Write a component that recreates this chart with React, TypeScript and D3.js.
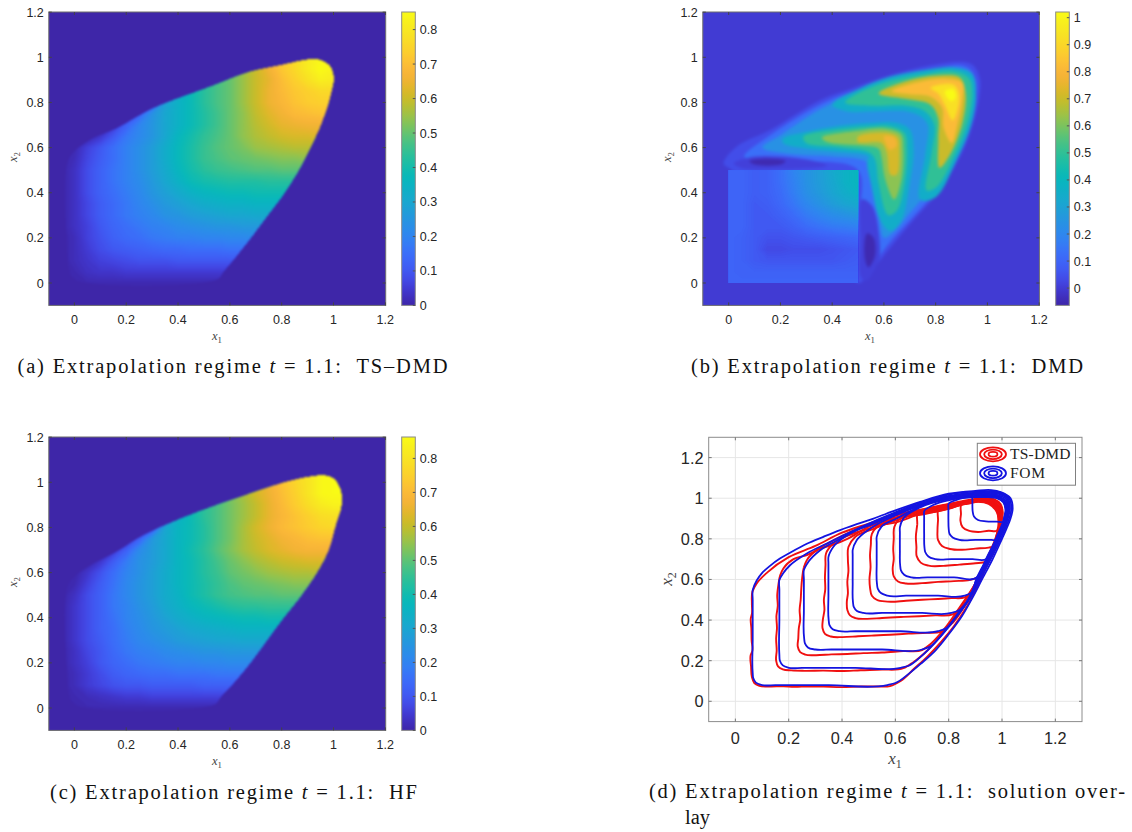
import React from "react";
import * as d3 from "d3";

/* ---------- palette ---------- */
const paletteStops = [
  "#3e26a8", "#4033c8", "#4349e8", "#3f5ef5", "#3c6cfa", "#3380f4", "#2b8cea", "#2498dc",
  "#1aa6d0", "#10afc6", "#04b8bc", "#18bda8", "#30c095", "#50c280", "#78c460", "#a0c245",
  "#c4bc28", "#e0b828", "#f8b03a", "#fcbf36", "#fcd02c", "#f8e024", "#f8ec20", "#f9fb15",
];

/* ---------- heat-map samples: rows y = 1.05 … -0.05, columns x = -0.05 … 1.05, step 0.05 ---------- */
const tsDmdField = [
  [0,0,0,0,0,0,0,0,0,.34,.38,.43,.47,.5,.55,.6,.66,.72,.76,.81,.84,.82,.82],
  [0,0,0,0,0,0,0,0,0,.34,.38,.43,.47,.5,.55,.6,.66,.72,.76,.81,.84,.83,.83],
  [0,0,0,0,0,0,0,0,0,.34,.38,.43,.47,.5,.55,.6,.66,.72,.76,.81,.85,.83,.82],
  [0,0,0,0,0,0,0,0,0,.34,.38,.43,.47,.5,.55,.6,.64,.7,.74,.78,.82,.81,.8],
  [0,0,0,0,0,0,0,0,.12,.3,.38,.43,.47,.5,.55,.6,.65,.69,.72,.74,.76,.76,.76],
  [0,0,0,0,0,0,0,.08,.28,.34,.38,.43,.47,.5,.55,.6,.65,.68,.71,.73,.74,.74,.74],
  [0,0,0,0,0,0,.12,.24,.3,.34,.38,.42,.46,.5,.54,.59,.63,.66,.69,.7,.71,.71,.71],
  [0,0,0,0,.04,.12,.2,.25,.3,.34,.38,.42,.46,.5,.54,.58,.61,.64,.65,.66,.66,.66,.66],
  [0,0,0,.04,.1,.17,.21,.25,.3,.36,.4,.44,.47,.5,.54,.57,.59,.61,.62,.62,.63,.63,.63],
  [0,.01,.06,.1,.15,.19,.23,.27,.32,.37,.41,.45,.48,.5,.52,.55,.56,.57,.58,.58,.58,.58,.58],
  [0,.02,.07,.11,.15,.19,.23,.27,.32,.37,.41,.45,.47,.49,.5,.51,.52,.53,.53,.54,.54,.54,.54],
  [0,.03,.08,.12,.16,.19,.23,.27,.31,.36,.4,.43,.45,.46,.47,.48,.48,.49,.49,.49,.49,.49,.49],
  [0,.03,.08,.12,.16,.19,.22,.26,.3,.34,.38,.4,.41,.42,.42,.42,.43,.43,.43,.43,.43,.43,.43],
  [0,.03,.08,.12,.15,.18,.21,.25,.28,.31,.34,.36,.37,.38,.38,.39,.39,.39,.39,.39,.39,.39,.39],
  [0,.03,.07,.11,.14,.17,.2,.23,.26,.28,.3,.32,.33,.34,.34,.35,.35,.35,.35,.35,.35,.35,.35],
  [0,.03,.07,.11,.14,.17,.19,.21,.24,.25,.27,.28,.29,.3,.3,.31,.31,.31,.31,.31,.31,.31,.31],
  [0,.03,.06,.1,.13,.15,.17,.19,.2,.22,.23,.24,.25,.25,.26,.26,.27,.27,.27,.27,.27,.27,.27],
  [0,.02,.06,.09,.12,.14,.15,.17,.18,.19,.19,.2,.2,.21,.21,.22,.22,.22,.22,.22,.22,.22,.22],
  [0,.02,.05,.08,.1,.11,.12,.13,.14,.14,.15,.15,.15,.16,.16,.16,.16,.16,.16,.16,.16,.16,.16],
  [0,.02,.04,.06,.07,.08,.09,.09,.09,.1,.1,.1,.1,.1,.1,.1,.1,.1,.1,.1,.1,.1,.1],
  [0,.01,.03,.04,.04,.05,.05,.05,.05,.05,.05,.05,.05,.05,.05,.05,.05,.05,.05,.05,.05,.05,.05],
  [0,0,.01,.01,.01,.01,.01,.01,.01,.01,.01,.01,.01,.01,.01,0,0,0,0,0,0,0,0],
  [0,0,0,0,0,0,0,0,0,0,0,0,0,0,0,0,0,0,0,0,0,0,0],
];
const hfField = [
  [0,0,0,0,0,0,0,0,0,.36,.4,.44,.48,.53,.57,.62,.67,.72,.76,.8,.85,.86,.86],
  [0,0,0,0,0,0,0,0,0,.36,.4,.44,.48,.53,.57,.62,.67,.72,.76,.8,.85,.86,.86],
  [0,0,0,0,0,0,0,0,0,.36,.4,.44,.48,.53,.57,.62,.66,.71,.75,.8,.85,.86,.86],
  [0,0,0,0,0,0,0,0,0,.36,.4,.44,.48,.52,.56,.6,.65,.7,.74,.78,.82,.84,.84],
  [0,0,0,0,0,0,0,0,.14,.34,.39,.44,.48,.52,.56,.6,.65,.69,.72,.75,.78,.79,.79],
  [0,0,0,0,0,0,0,.08,.3,.36,.39,.43,.48,.52,.57,.62,.66,.7,.72,.74,.76,.77,.77],
  [0,0,0,0,0,.01,.12,.26,.31,.36,.39,.43,.48,.52,.57,.61,.64,.67,.69,.71,.72,.72,.72],
  [0,0,0,0,.04,.12,.22,.27,.31,.36,.4,.44,.49,.53,.57,.6,.63,.65,.67,.68,.68,.68,.68],
  [0,0,0,.04,.11,.18,.24,.27,.31,.36,.39,.43,.47,.51,.54,.57,.59,.61,.62,.63,.63,.63,.63],
  [0,0,.04,.09,.15,.2,.24,.28,.32,.36,.39,.43,.46,.5,.52,.54,.56,.57,.58,.58,.59,.59,.59],
  [0,.01,.06,.11,.16,.21,.25,.28,.32,.36,.39,.42,.45,.48,.5,.51,.52,.53,.54,.54,.54,.54,.54],
  [0,.03,.08,.12,.17,.21,.25,.28,.32,.35,.39,.42,.45,.47,.48,.49,.49,.5,.5,.5,.5,.5,.5],
  [0,.04,.08,.12,.17,.2,.24,.27,.31,.34,.37,.39,.41,.43,.44,.44,.45,.45,.45,.45,.45,.45,.45],
  [0,.04,.08,.12,.16,.2,.23,.26,.29,.32,.34,.36,.37,.38,.39,.39,.4,.4,.4,.4,.4,.4,.4],
  [0,.04,.08,.12,.15,.19,.22,.25,.27,.29,.31,.32,.33,.34,.35,.35,.35,.35,.35,.35,.35,.35,.35],
  [0,.04,.08,.11,.15,.18,.21,.23,.25,.27,.28,.29,.3,.3,.31,.31,.31,.31,.31,.31,.31,.31,.31],
  [0,.03,.07,.1,.14,.17,.19,.2,.22,.23,.24,.25,.25,.26,.26,.26,.26,.26,.26,.26,.26,.26,.26],
  [0,.03,.06,.1,.13,.15,.17,.18,.19,.2,.2,.21,.21,.22,.22,.22,.22,.22,.22,.22,.22,.22,.22],
  [0,.02,.05,.08,.11,.13,.14,.15,.15,.16,.16,.16,.17,.17,.17,.17,.17,.17,.17,.17,.17,.17,.17],
  [0,.02,.05,.07,.09,.1,.1,.11,.11,.11,.11,.12,.12,.12,.12,.12,.12,.12,.12,.12,.12,.12,.12],
  [0,.01,.02,.03,.04,.05,.05,.06,.06,.06,.06,.06,.06,.06,.06,.06,.06,.06,.06,.06,.06,.06,.06],
  [0,0,.01,.01,.01,.01,.01,.01,.01,.01,.01,.01,.01,.01,.01,0,0,0,0,0,0,0,0],
  [0,0,0,0,0,0,0,0,0,0,0,0,0,0,0,0,0,0,0,0,0,0,0],
];

/* DMD: iso-level outlines painted in order */
const dmdLevels = [.04, .13, .24, .35, .5, .7, .82, .93, 1.02, .35, .5, .62, .72, .78, .01, -.05, .01, -.05];
const dmdOutlines: number[][][] = [
  [[-.02,.53],[.03,.604],[.16,.678],[.353,.81],[.47,.86],[.585,.907],[.7,.945],[.8,.968],[.894,.98],[.945,.965],[.971,.906],[.969,.825],[.945,.707],[.907,.589],[.817,.412],[.726,.293],[.649,.19],[.585,.1],[.52,.01],[.5,0],[.3,.3],[0,.51]],
  [[.06,.56],[.16,.655],[.353,.79],[.47,.845],[.585,.89],[.7,.93],[.8,.95],[.89,.965],[.93,.95],[.955,.9],[.955,.825],[.93,.71],[.89,.59],[.8,.41],[.71,.29],[.63,.19],[.57,.1],[.53,.03],[.51,.3],[.5,.5],[.3,.54],[.1,.54]],
  [[.13,.6],[.2,.655],[.353,.77],[.47,.83],[.585,.875],[.7,.915],[.8,.94],[.88,.95],[.92,.94],[.94,.89],[.94,.82],[.915,.7],[.87,.59],[.78,.42],[.7,.31],[.65,.24],[.6,.2],[.58,.3],[.56,.42],[.54,.53],[.4,.56],[.25,.57]],
  [[.4,.79],[.507,.862],[.623,.914],[.752,.943],[.868,.955],[.939,.929],[.956,.84],[.939,.707],[.881,.545],[.8,.38],[.74,.37],[.76,.57],[.77,.7],[.74,.74],[.688,.76],[.559,.76],[.46,.76]],
  [[.45,.8],[.507,.845],[.623,.895],[.752,.924],[.868,.938],[.928,.908],[.941,.84],[.922,.707],[.87,.559],[.804,.425],[.765,.41],[.785,.58],[.795,.7],[.76,.76],[.688,.785],[.559,.785]],
  [[.58,.84],[.688,.895],[.817,.92],[.894,.91],[.916,.84],[.903,.707],[.858,.574],[.815,.51],[.81,.64],[.81,.73],[.78,.79],[.688,.815]],
  [[.63,.85],[.752,.895],[.842,.905],[.903,.887],[.903,.81],[.884,.7],[.862,.62],[.83,.69],[.825,.775],[.78,.825],[.71,.835]],
  [[.78,.865],[.868,.88],[.89,.84],[.884,.766],[.866,.72],[.835,.79],[.81,.84]],
  [[.836,.85],[.868,.858],[.878,.825],[.862,.805],[.842,.825]],
  [[.21,.64],[.3,.67],[.417,.695],[.559,.71],[.649,.71],[.7,.68],[.715,.589],[.7,.441],[.665,.27],[.625,.23],[.585,.28],[.55,.441],[.535,.53],[.54,.56],[.43,.58],[.3,.595],[.21,.62]],
  [[.288,.648],[.417,.68],[.56,.695],[.623,.695],[.68,.665],[.69,.589],[.68,.441],[.65,.32],[.617,.3],[.58,.44],[.565,.55],[.54,.58],[.43,.6],[.3,.62]],
  [[.36,.645],[.5,.675],[.6,.685],[.665,.66],[.675,.59],[.668,.46],[.64,.37],[.605,.46],[.59,.56],[.58,.595],[.5,.61],[.38,.625]],
  [[.5,.65],[.62,.665],[.655,.645],[.66,.58],[.65,.48],[.625,.48],[.61,.58],[.59,.62],[.5,.625]],
  [[.6,.65],[.64,.645],[.65,.61],[.625,.59],[.605,.625]],
  [[.02,.53],[.1,.56],[.2,.56],[.33,.54],[.38,.52],[.2,.505],[.05,.51]],
  [[.08,.54],[.15,.55],[.22,.54],[.2,.525],[.1,.525]],
  [[.515,.37],[.555,.34],[.58,.22],[.58,.1],[.53,.01],[.51,.03],[.51,.2]],
  [[.535,.22],[.56,.2],[.565,.12],[.54,.07],[.525,.12]],
];
/* DMD square [0,0.5]²: rows y = 0.5 … 0, columns x = 0 … 0.5 */
const dmdSquare = [
  [.1,.1,.08,.09,.13,.19,.24,.28,.33,.37,.4],
  [.1,.1,.08,.09,.13,.18,.24,.28,.32,.37,.4],
  [.1,.1,.08,.09,.12,.17,.23,.27,.31,.35,.38],
  [.1,.1,.07,.08,.11,.15,.2,.24,.28,.31,.33],
  [.1,.1,.07,.07,.09,.12,.16,.19,.22,.24,.26],
  [.1,.1,.07,.07,.07,.09,.12,.14,.16,.17,.18],
  [.1,.09,.07,.05,.05,.06,.07,.08,.09,.1,.11],
  [.1,.09,.07,.03,.03,.04,.04,.04,.05,.06,.07],
  [.1,.09,.07,.06,.06,.06,.06,.06,.06,.07,.08],
  [.1,.09,.09,.09,.09,.09,.09,.09,.09,.09,.09],
  [.1,.1,.1,.1,.1,.1,.1,.1,.1,.1,.1],
];

/* sharp outer edges of the two transported fronts */
const tsDmdEdge: number[][] = [[0,.015],[.55,.015],[.575,.05],[.625,.12],[.68,.2],[.745,.3],[.81,.4],[.865,.5],[.91,.6],[.95,.7],[.98,.8],[.995,.87],[1,.91],[.985,.96],[.936,.99],[.88,.985],[.8,.965],[.678,.935],[.549,.88],[.42,.825],[.292,.767],[.163,.685],[.06,.634],[-.017,.56],[-.036,.456],[-.03,.2],[-.02,.06]];
const hfEdge: number[][] = [[0,.015],[.54,.015],[.565,.05],[.625,.125],[.685,.21],[.745,.305],[.81,.405],[.875,.5],[.935,.6],[.98,.7],[1.005,.8],[1.03,.9],[1.025,.97],[1,1.015],[.96,1.03],[.9,1.022],[.8,.995],[.693,.955],[.518,.885],[.393,.83],[.268,.765],[.167,.695],[.06,.63],[-.017,.56],[-.036,.456],[-.03,.2],[-.02,.06]];

/* ---------- overlay curves (x1, x2) ---------- */
const fomCurves: number[][][] = [
  [[.065,.5],[.065,.3],[.065,.14],[.067,.115],[.077,.092],[.1,.08],[.15,.08],[.35,.08],[.57,.08],[.6,.09],[.65,.135],[.7,.19],[.75,.25],[.8,.33],[.85,.42],[.885,.5],[.925,.6],[.965,.7],[1,.8],[1.017,.85],[1.032,.9],[1.04,.95],[1.032,1],[.995,1.03],[.96,1.04],[.9,1.036],[.8,1.022],[.693,.982],[.6,.94],[.518,.9],[.455,.872],[.393,.843],[.33,.81],[.268,.776],[.2,.728],[.167,.703],[.13,.667],[.099,.63],[.08,.595],[.065,.547]],
  [[.165,.55],[.165,.4],[.165,.23],[.167,.2],[.178,.177],[.2,.165],[.25,.165],[.45,.165],[.62,.165],[.65,.175],[.7,.225],[.75,.29],[.8,.37],[.85,.46],[.875,.5],[.918,.6],[.958,.7],[.995,.8],[1.012,.85],[1.027,.9],[1.035,.95],[1.027,1],[.99,1.03],[.95,1.035],[.9,1.032],[.8,1.018],[.693,.978],[.6,.93],[.518,.885],[.418,.825],[.343,.777],[.268,.728],[.205,.67],[.18,.632],[.165,.597]],
  [[.257,.6],[.257,.45],[.258,.31],[.261,.285],[.272,.265],[.3,.255],[.36,.255],[.55,.255],[.7,.255],[.73,.27],[.77,.32],[.82,.4],[.87,.49],[.912,.6],[.952,.7],[.99,.8],[1.022,.9],[1.03,.95],[1.022,1],[.99,1.025],[.95,1.03],[.9,1.028],[.8,1.012],[.693,.972],[.6,.925],[.518,.88],[.45,.84],[.393,.8],[.318,.744],[.274,.687],[.257,.646]],
  [[.349,.68],[.349,.52],[.35,.4],[.353,.375],[.365,.355],[.39,.345],[.45,.345],[.62,.345],[.76,.345],[.79,.36],[.83,.42],[.88,.51],[.908,.6],[.948,.7],[.986,.8],[1.018,.9],[1.026,.95],[1.018,1],[.99,1.02],[.95,1.025],[.9,1.024],[.8,1.008],[.693,.968],[.6,.92],[.518,.875],[.418,.817],[.367,.76],[.349,.71]],
  [[.44,.72],[.44,.58],[.441,.49],[.444,.465],[.456,.445],[.48,.435],[.55,.435],[.7,.435],[.81,.435],[.84,.45],[.88,.52],[.905,.6],[.945,.7],[.983,.8],[1.015,.9],[1.023,.95],[1.015,.995],[.985,1.015],[.95,1.02],[.9,1.02],[.8,1.004],[.693,.964],[.6,.915],[.505,.85],[.455,.793],[.44,.745]],
  [[.53,.78],[.53,.68],[.531,.58],[.534,.555],[.546,.533],[.57,.52],[.64,.52],[.76,.52],[.86,.52],[.885,.535],[.903,.6],[.942,.7],[.98,.8],[1.012,.9],[1.02,.95],[1.012,.99],[.98,1.012],[.95,1.016],[.9,1.016],[.8,1],[.693,.96],[.605,.9],[.548,.86],[.53,.81]],
  [[.617,.83],[.617,.74],[.618,.67],[.621,.645],[.633,.623],[.66,.61],[.72,.61],[.82,.61],[.905,.61],[.915,.625],[.94,.7],[.978,.8],[1.01,.9],[1.017,.95],[1.01,.985],[.98,1.008],[.95,1.012],[.9,1.012],[.8,.996],[.693,.955],[.63,.9],[.617,.857]],
  [[.708,.91],[.708,.82],[.709,.76],[.712,.735],[.724,.713],[.75,.7],[.81,.7],[.89,.7],[.94,.7],[.955,.72],[.977,.8],[1.008,.9],[1.015,.95],[1.008,.98],[.98,1.005],[.95,1.01],[.9,1.008],[.82,.995],[.74,.965],[.708,.935]],
  [[.799,.95],[.799,.89],[.8,.85],[.803,.825],[.815,.807],[.84,.795],[.9,.795],[.96,.795],[.98,.795],[.988,.81],[1.007,.9],[1.013,.95],[1.006,.98],[.98,1.003],[.95,1.007],[.9,1.005],[.83,.992],[.799,.97]],
  [[.889,.985],[.889,.96],[.89,.935],[.895,.91],[.91,.893],[.94,.886],[.98,.885],[1.008,.885],[1.013,.895],[1.013,.95],[1.005,.98],[.98,1],[.95,1.005],[.92,1.006],[.889,1.003]],
];
const tsDmdCurves: number[][][] = [
  [[.064,.54],[.062,.48],[.062,.43],[.058,.41],[.06,.36],[.061,.3],[.063,.245],[.058,.23],[.059,.17],[.062,.12],[.071,.09],[.09,.076],[.13,.073],[.18,.074],[.22,.071],[.27,.073],[.33,.072],[.4,.07],[.47,.073],[.53,.073],[.58,.075],[.62,.1],[.67,.16],[.72,.22],[.77,.29],[.82,.37],[.87,.47],[.92,.6],[.96,.73],[.985,.8],[.995,.87],[1.003,.93],[.995,.97],[.97,.995],[.93,1],[.85,.985],[.8,.972],[.7,.945],[.6,.92],[.5,.875],[.4,.83],[.3,.765],[.2,.71],[.12,.635],[.08,.58]],
  [[.18,.654],[.168,.62],[.161,.57],[.157,.52],[.159,.47],[.154,.42],[.156,.36],[.153,.31],[.155,.25],[.153,.2],[.16,.172],[.178,.157],[.21,.152],[.26,.15],[.33,.151],[.4,.149],[.47,.153],[.55,.156],[.63,.163],[.665,.19],[.72,.25],[.78,.34],[.84,.45],[.9,.58],[.95,.72],[.985,.82],[1,.92],[.993,.965],[.968,.993],[.93,.998],[.85,.982],[.8,.97],[.7,.943],[.6,.915],[.5,.87],[.4,.815],[.336,.77],[.268,.72],[.218,.7]],
  [[.268,.695],[.257,.66],[.25,.6],[.247,.55],[.245,.5],[.241,.45],[.243,.4],[.238,.36],[.236,.31],[.234,.27],[.243,.242],[.262,.23],[.3,.227],[.36,.231],[.42,.233],[.48,.237],[.55,.24],[.63,.247],[.7,.252],[.73,.28],[.78,.35],[.84,.46],[.9,.58],[.95,.72],[.98,.82],[.998,.925],[.99,.96],[.965,.99],[.928,.996],[.85,.98],[.8,.968],[.7,.94],[.6,.905],[.5,.86],[.42,.8],[.365,.77],[.312,.748]],
  [[.34,.728],[.338,.67],[.336,.61],[.337,.55],[.332,.5],[.334,.45],[.328,.4],[.327,.36],[.336,.332],[.358,.319],[.4,.316],[.46,.32],[.52,.324],[.58,.328],[.65,.333],[.72,.337],[.77,.342],[.81,.38],[.86,.47],[.91,.58],[.955,.71],[.98,.82],[.996,.92],[.988,.958],[.962,.988],[.925,.994],[.85,.978],[.8,.965],[.7,.935],[.6,.9],[.5,.85],[.43,.82],[.367,.777]],
  [[.424,.76],[.422,.7],[.424,.64],[.42,.59],[.422,.53],[.418,.49],[.42,.45],[.43,.423],[.45,.41],[.49,.406],[.55,.41],[.62,.415],[.69,.419],[.75,.423],[.815,.428],[.85,.46],[.9,.57],[.95,.7],[.98,.81],[.994,.91],[.986,.955],[.96,.985],[.922,.992],[.85,.976],[.8,.96],[.7,.93],[.6,.89],[.52,.85],[.45,.81]],
  [[.512,.825],[.508,.77],[.505,.72],[.507,.66],[.503,.6],[.505,.56],[.512,.52],[.53,.5],[.57,.491],[.64,.495],[.7,.5],[.76,.504],[.81,.508],[.86,.512],[.895,.55],[.94,.67],[.975,.79],[.992,.9],[.984,.952],[.958,.982],[.92,.99],[.85,.974],[.8,.955],[.7,.925],[.6,.88],[.53,.857]],
  [[.596,.858],[.594,.8],[.592,.75],[.594,.7],[.59,.65],[.594,.615],[.61,.59],[.64,.58],[.7,.582],[.76,.588],[.82,.592],[.88,.598],[.91,.61],[.94,.68],[.97,.77],[.99,.89],[.982,.95],[.956,.98],[.918,.988],[.85,.972],[.8,.95],[.7,.92],[.612,.893]],
  [[.686,.932],[.682,.87],[.677,.81],[.679,.76],[.68,.715],[.695,.683],[.725,.668],[.78,.667],[.84,.673],[.9,.68],[.94,.688],[.96,.71],[.98,.8],[.99,.88],[.98,.948],[.954,.978],[.915,.986],[.85,.97],[.8,.948],[.72,.93]],
  [[.764,.95],[.76,.89],[.758,.84],[.76,.795],[.775,.765],[.805,.75],[.85,.746],[.9,.752],[.95,.757],[.975,.765],[.985,.82],[.988,.88],[.978,.945],[.952,.975],[.912,.984],[.85,.968],[.79,.948]],
  [[.849,.97],[.846,.92],[.844,.89],[.852,.858],[.875,.84],[.91,.834],[.95,.84],[.98,.84],[.987,.88],[.976,.942],[.95,.972],[.91,.982],[.87,.972]],
];

/* ---------- axis content ---------- */
const heatXTicks = [0, .2, .4, .6, .8, 1, 1.2];
const heatYTicks = [0, .2, .4, .6, .8, 1, 1.2];
const overlayTicks = [0, .2, .4, .6, .8, 1, 1.2];
const barTicksA = [0, .1, .2, .3, .4, .5, .6, .7, .8];
const barTicksB = [0, .1, .2, .3, .4, .5, .6, .7, .8, .9, 1];
const barTicksC = [0, .1, .2, .3, .4, .5, .6, .7, .8];
const legendLabels = ["TS-DMD", "FOM"];
const legendColors = ["#f01010", "#1414e0"];
const legendRings = [1, .68, .34];

const SERIF = "'Liberation Serif', serif";
const SANS = "'Liberation Sans', Arial, sans-serif";
const INK = "#262626";
const FRAME = "#6e6e6e";

const rgbPalette = d3.interpolateRgbBasis(paletteStops);
const fmt = (v: number) => String(+v.toFixed(2));

function fieldBands(field: number[][], x0: number, yTop: number, step: number,
  sx: any, sy: any, lo: number, hi: number, color: (v: number) => string, n = 110) {
  const h = field.length, w = field[0].length;
  const ths = d3.range(n).map((i) => lo + ((hi - lo) * (i + 0.5)) / n);
  const gen = d3.contours().size([w, h]).thresholds(ths);
  const proj = d3.geoTransform({
    point(x: number, y: number) {
      (this as any).stream.point(sx(x0 + (x - 0.5) * step), sy(yTop - (y - 0.5) * step));
    },
  });
  const path = d3.geoPath(proj);
  return gen(field.flat()).map((c: any, i: number) => (
    <path key={i} d={path(c) || ""} fill={color(c.value + (hi - lo) / (2 * n))} />
  ));
}

function XLabel({ x, y, size, sub }: any) {
  return (
    <text x={x} y={y} textAnchor="middle" fontFamily={SERIF} fontSize={size} fill="#444">
      <tspan fontStyle="italic">x</tspan>
      <tspan fontSize={size * 0.7} dy={size * 0.22}>{sub}</tspan>
    </text>
  );
}
function YLabel({ x, y, size, sub }: any) {
  return (
    <g transform={`translate(${x},${y}) rotate(-90)`}>
      <XLabel x={0} y={0} size={size} sub={sub} />
    </g>
  );
}

function Caption({ x, y, width, letter, tail }: any) {
  return (
    <text x={x} y={y} fontFamily={SERIF} fontSize={20.5} fill="#111" textLength={width} lengthAdjust="spacing" xmlSpace="preserve">
      <tspan>{`(${letter}) Extrapolation regime `}</tspan>
      <tspan fontStyle="italic">t</tspan>
      <tspan>{` = 1.1:  ${tail}`}</tspan>
    </text>
  );
}

function Heat({ id, box, xZero, xOne, yZero, yOne, field, edge, square, levels, outlines, bar, barTicks, lo, hi, labelX, labelY, labelYx }: any) {
  const sx = d3.scaleLinear().domain([0, 1]).range([xZero, xOne]);
  const sy = d3.scaleLinear().domain([0, 1]).range([yZero, yOne]);
  const color = (v: number) => rgbPalette(Math.max(0, Math.min(1, (v - lo) / (hi - lo))));
  const line = d3.line<number[]>().x((d) => sx(d[0])).y((d) => sy(d[1])).curve(d3.curveCatmullRomClosed.alpha(0.5));
  const barScale = d3.scaleLinear().domain([lo, hi]).range([box.b, box.t]);
  const barCells = d3.range(128);
  return (
    <g>
      <defs>
        <clipPath id={`${id}-plot`}><rect x={box.l} y={box.t} width={box.r - box.l} height={box.b - box.t} /></clipPath>
        {edge && <clipPath id={`${id}-edge`}><path d={line(edge) || ""} /></clipPath>}
        {square && <clipPath id={`${id}-sq`}><rect x={sx(0)} y={sy(.5)} width={sx(.5) - sx(0)} height={sy(0) - sy(.5)} /></clipPath>}
        <linearGradient id={`${id}-grad`} x1="0" y1="1" x2="0" y2="0">
          {barCells.map((i) => <stop key={i} offset={i / 127} stopColor={rgbPalette(i / 127)} />)}
        </linearGradient>
      </defs>
      <g clipPath={`url(#${id}-plot)`}>
        <g filter={outlines ? "url(#iso-soft)" : "url(#soft)"}>
          <rect x={box.l - 30} y={box.t - 30} width={box.r - box.l + 60} height={box.b - box.t + 60} fill={color(0)} />
          {field && (
            <g clipPath={edge ? `url(#${id}-edge)` : undefined}>
              {fieldBands(field, -0.05, 1.05, 0.05, sx, sy, lo, hi, color)}
            </g>
          )}
          {outlines && outlines.map((o: number[][], i: number) => (
            <path key={i} d={line(o) || ""} fill={color(levels[i])} />
          ))}
        </g>
        {square && (
          <g filter="url(#softer)">
            <g clipPath={`url(#${id}-sq)`}>
              <rect x={sx(0)} y={sy(.5)} width={sx(.5) - sx(0)} height={sy(0) - sy(.5)} fill={color(.1)} />
              {fieldBands(square, 0, 0.5, 0.05, sx, sy, lo, hi, color, 180)}
            </g>
          </g>
        )}
      </g>
      <rect x={box.l} y={box.t} width={box.r - box.l} height={box.b - box.t} fill="none" stroke={FRAME} strokeWidth={1} />
      {heatXTicks.map((t) => (
        <g key={t}>
          <line x1={sx(t)} x2={sx(t)} y1={box.b} y2={box.b - 3} stroke="#444" />
          <line x1={sx(t)} x2={sx(t)} y1={box.t} y2={box.t + 3} stroke="#444" />
          <text x={sx(t)} y={box.b + 18.5} textAnchor="middle" fontFamily={SANS} fontSize={12.5} fill={INK}>{fmt(t)}</text>
        </g>
      ))}
      {heatYTicks.map((t) => (
        <g key={t}>
          <line x1={box.l} x2={box.l + 3} y1={sy(t)} y2={sy(t)} stroke="#444" />
          <line x1={box.r} x2={box.r - 3} y1={sy(t)} y2={sy(t)} stroke="#444" />
          <text x={box.l - 5} y={sy(t) + 4.5} textAnchor="end" fontFamily={SANS} fontSize={12.5} fill={INK}>{fmt(t)}</text>
        </g>
      ))}
      <rect x={bar.l} y={box.t} width={bar.r - bar.l} height={box.b - box.t} fill={`url(#${id}-grad)`} stroke="#8a8a8a" strokeWidth={1} />
      {barTicks.map((t: number) => (
        <g key={t}>
          <line x1={bar.r} x2={bar.r - 2.5} y1={barScale(t)} y2={barScale(t)} stroke="#555" />
          <text x={bar.r + 4.5} y={barScale(t) + 4.5} fontFamily={SANS} fontSize={12.5} fill={INK}>{fmt(t)}</text>
        </g>
      ))}
      <XLabel x={labelX} y={box.b + 35} size={12.5} sub="1" />
      <YLabel x={labelYx} y={labelY} size={12.5} sub="2" />
    </g>
  );
}

function Overlay() {
  const sx = d3.scaleLinear().domain([-.1, 1.3]).range([708.7, 1082]);
  const sy = d3.scaleLinear().domain([-.1, 1.3]).range([721.6, 437.3]);
  const line = d3.line<number[]>().x((d) => sx(d[0])).y((d) => sy(d[1])).curve(d3.curveCatmullRomClosed.alpha(1));
  const legend = { l: 977.3, t: 443.3, r: 1075.5, b: 485.2 };
  return (
    <g>
      {overlayTicks.map((t) => (
        <g key={t}>
          <line x1={sx(t)} x2={sx(t)} y1={sy(-.1)} y2={sy(1.3)} stroke="#e6e6e6" />
          <line x1={sx(-.1)} x2={sx(1.3)} y1={sy(t)} y2={sy(t)} stroke="#e6e6e6" />
        </g>
      ))}
      <g filter="url(#line-soft)">
        {tsDmdCurves.map((c, i) => <path key={i} d={line(c) || ""} fill="none" stroke={legendColors[0]} strokeWidth={1.9} />)}
        {fomCurves.map((c, i) => <path key={i} d={line(c) || ""} fill="none" stroke={legendColors[1]} strokeWidth={1.8} />)}
      </g>
      <rect x={sx(-.1)} y={sy(1.3)} width={sx(1.3) - sx(-.1)} height={sy(-.1) - sy(1.3)} fill="none" stroke="#8c8c8c" />
      {overlayTicks.map((t) => (
        <g key={t}>
          <line x1={sx(t)} x2={sx(t)} y1={sy(-.1)} y2={sy(-.1) - 3} stroke="#777" />
          <line x1={sx(t)} x2={sx(t)} y1={sy(1.3)} y2={sy(1.3) + 3} stroke="#777" />
          <line x1={sx(-.1)} x2={sx(-.1) + 3} y1={sy(t)} y2={sy(t)} stroke="#777" />
          <line x1={sx(1.3)} x2={sx(1.3) - 3} y1={sy(t)} y2={sy(t)} stroke="#777" />
          <text x={sx(t)} y={744} textAnchor="middle" fontFamily={SANS} fontSize={16.3} fill={INK}>{fmt(t)}</text>
          <text x={703.5} y={sy(t) + 6} textAnchor="end" fontFamily={SANS} fontSize={16.3} fill={INK}>{fmt(t)}</text>
        </g>
      ))}
      <XLabel x={895} y={764} size={17} sub="1" />
      <YLabel x={672} y={579} size={17} sub="2" />
      <rect x={legend.l} y={legend.t} width={legend.r - legend.l} height={legend.b - legend.t} fill="#fff" stroke="#808080" />
      {legendLabels.map((name, i) => {
        const cy = 454.3 + i * 19;
        return (
          <g key={name}>
            {legendRings.map((k) => (
              <ellipse key={k} cx={993} cy={cy} rx={13 * k} ry={7 * k} fill="none" stroke={legendColors[i]} strokeWidth={1.8} />
            ))}
            <text x={1010} y={cy + (i === 0 ? 5 : 4.5)} fontFamily={SERIF} fontSize={15.5} fill="#222"
              textLength={i === 0 ? 60.5 : 35} lengthAdjust="spacing">{name}</text>
          </g>
        );
      })}
    </g>
  );
}

export default function App() {
  return (
    <svg width={1132} height={832} style={{ position: "absolute", left: 0, top: 0, background: "#fff" }}>
      <defs>
        <filter id="soft" colorInterpolationFilters="sRGB" x="-5%" y="-5%" width="110%" height="110%">
          <feGaussianBlur stdDeviation="1.1" />
        </filter>
        <filter id="iso-soft" colorInterpolationFilters="sRGB" x="-5%" y="-5%" width="110%" height="110%">
          <feGaussianBlur stdDeviation="1.7" />
        </filter>
        <filter id="softer" colorInterpolationFilters="sRGB" x="-5%" y="-5%" width="110%" height="110%">
          <feGaussianBlur stdDeviation="0.6" />
        </filter>
        <filter id="line-soft" colorInterpolationFilters="sRGB" x="-5%" y="-5%" width="110%" height="110%">
          <feGaussianBlur stdDeviation="0.35" />
        </filter>
      </defs>
      <Heat id="a" box={{ l: 48.8, r: 385.7, t: 12, b: 305.4 }} xZero={74.4} xOne={333.5} yZero={283} yOne={57.3}
        field={tsDmdField} edge={tsDmdEdge} bar={{ l: 401.7, r: 415.3 }} barTicks={barTicksA} lo={0} hi={.851}
        labelX={217} labelY={157} labelYx={17} />
      <Heat id="b" box={{ l: 702.8, r: 1039.4, t: 12, b: 305.4 }} xZero={728.7} xOne={987.4} yZero={283} yOne={57.3}
        levels={dmdLevels} outlines={dmdOutlines} square={dmdSquare} bar={{ l: 1055.7, r: 1069.3 }} barTicks={barTicksB} lo={-.064} hi={1.021}
        labelX={870} labelY={157} labelYx={671} />
      <Heat id="c" box={{ l: 48.8, r: 385.7, t: 437, b: 730.4 }} xZero={74.4} xOne={333.5} yZero={708} yOne={482.3}
        field={hfField} edge={hfEdge} bar={{ l: 401.7, r: 415.3 }} barTicks={barTicksC} lo={0} hi={.863}
        labelX={217} labelY={582} labelYx={17} />
      <Overlay />
      <Caption x={17.5} y={373} width={430} letter="a" tail="TS–DMD" />
      <Caption x={691} y={373} width={392} letter="b" tail="DMD" />
      <Caption x={50} y={799} width={367} letter="c" tail="HF" />
      <Caption x={649} y={798} width={476} letter="d" tail="solution over-" />
      <text x={685} y={824} fontFamily={SERIF} fontSize={20.5} fill="#111">lay</text>
    </svg>
  );
}
